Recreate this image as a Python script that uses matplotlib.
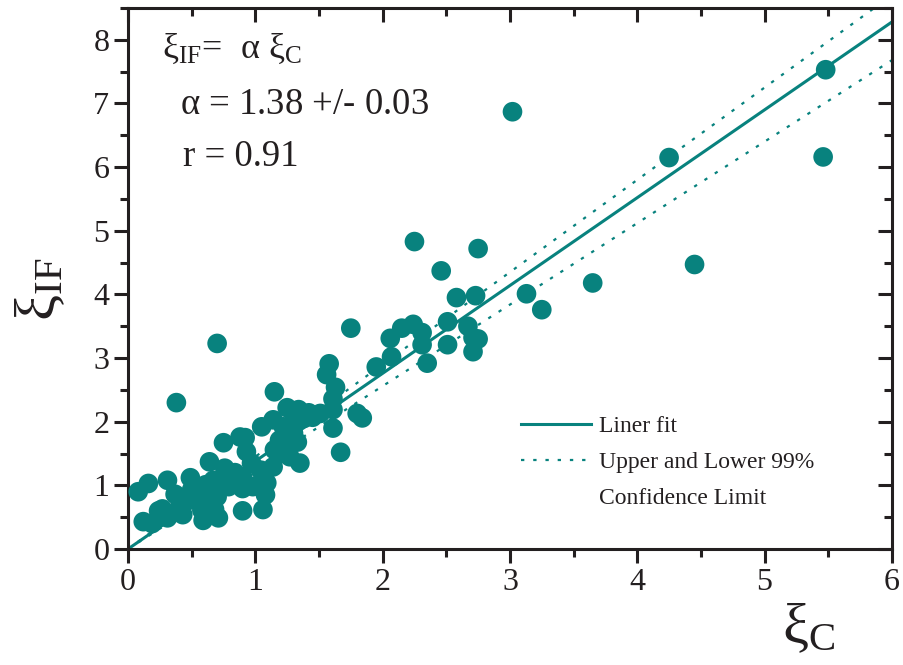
import numpy as np
import matplotlib.pyplot as plt
from matplotlib.lines import Line2D
from matplotlib.ticker import MultipleLocator

plt.rcParams['font.family'] = ['Liberation Serif', 'DejaVu Serif']
plt.rcParams['mathtext.fontset'] = 'custom'
plt.rcParams['mathtext.rm'] = 'Liberation Serif'
plt.rcParams['mathtext.it'] = 'Liberation Serif'

TEAL = '#08827e'
INK = '#231f20'

# correlation length from C vs. from IF
xi_c = [0.08, 0.16, 0.12, 0.19, 0.31, 0.27, 0.31, 0.37, 0.41, 0.43,
        0.49, 0.50, 0.54, 0.59, 0.58, 0.61, 0.64, 0.67, 0.70, 0.71,
        0.68, 0.75, 0.76, 0.79, 0.88, 0.90, 0.93, 0.90, 0.98, 0.97,
        1.04, 1.09, 1.08, 1.06, 1.05, 1.14, 1.22, 1.30, 1.33, 1.19,
        1.15, 0.92, 1.14, 1.15, 1.25, 1.34, 1.42, 1.51, 1.58, 1.56,
        1.63, 1.61, 1.61, 1.61, 1.67, 1.80, 1.84, 1.35, 1.27, 1.20,
        1.28, 1.24, 0.84, 0.80, 0.70, 0.38, 1.75, 1.95, 2.06, 2.15,
        2.24, 2.31, 2.31, 2.07, 2.35, 2.51, 2.51, 2.67, 2.71, 2.75,
        2.71, 2.58, 2.73, 2.25, 2.75, 2.46, 3.13, 3.25, 3.65, 4.45,
        4.25, 5.46, 5.48, 3.02, 0.90, 1.45, 1.38, 0.44, 0.24, 0.60]
xi_if = [0.90, 1.03, 0.43, 0.40, 1.08, 0.63, 0.49, 0.86, 0.69, 0.54,
         1.12, 0.93, 0.77, 0.45, 0.61, 1.01, 1.37, 1.08, 0.82, 0.49,
         0.62, 1.67, 1.27, 0.98, 1.76, 0.60, 1.53, 1.13, 0.98, 1.35,
         1.24, 1.04, 0.85, 0.62, 1.92, 2.03, 1.92, 1.82, 1.68, 1.71,
         1.56, 1.75, 1.29, 2.47, 2.22, 2.19, 2.14, 2.13, 2.91, 2.74,
         2.54, 2.36, 2.19, 1.90, 1.52, 2.13, 2.06, 1.35, 1.45, 1.50,
         1.95, 1.60, 1.20, 1.10, 3.23, 2.30, 3.47, 2.86, 3.31, 3.47,
         3.53, 3.40, 3.21, 3.02, 2.92, 3.57, 3.21, 3.50, 3.32, 3.30,
         3.10, 3.95, 3.98, 4.83, 4.72, 4.37, 4.01, 3.76, 4.18, 4.47,
         6.15, 6.16, 7.53, 6.87, 0.95, 2.07, 2.05, 0.75, 0.60, 0.85]

alpha = 1.38
alpha_upper = 1.45
alpha_lower = 1.28

fig = plt.figure(figsize=(9.04, 6.65), dpi=100)
ax = fig.add_axes([0.1416, 0.1744, 0.845, 0.8136])

ax.scatter(xi_c, xi_if, s=200, color=TEAL, edgecolors='none', zorder=3)

dots = (0, (1.5, 4))
xf = np.array([0, 6.0])
ax.plot(xf, alpha * xf, color=TEAL, lw=2.2, zorder=2)
ax.plot(xf, alpha_upper * xf, color=TEAL, lw=1.6, ls=dots, zorder=2)
ax.plot(xf, alpha_lower * xf, color=TEAL, lw=1.6, ls=dots, zorder=2)

ax.set_xlim(0, 6)
ax.set_ylim(0, 8.5)
ax.xaxis.set_major_locator(MultipleLocator(1))
ax.xaxis.set_minor_locator(MultipleLocator(0.5))
ax.yaxis.set_major_locator(MultipleLocator(1))
ax.yaxis.set_minor_locator(MultipleLocator(0.5))

for sp in ax.spines.values():
    sp.set_linewidth(2.2)
    sp.set_color(INK)

ax.tick_params(which='both', direction='out', width=2.2, color=INK,
               labelsize=23, labelcolor=INK, top=False, right=False)
ax.tick_params(which='major', length=10)
ax.tick_params(which='minor', length=6)

# mirrored ticks pointing inward on top and right, no labels
top = ax.secondary_xaxis('top')
right = ax.secondary_yaxis('right')
for sec in (top, right):
    sec.tick_params(which='both', direction='in', width=2.2, color=INK,
                    labeltop=False, labelright=False)
    sec.tick_params(which='major', length=10)
    sec.tick_params(which='minor', length=6)
top.xaxis.set_major_locator(MultipleLocator(1))
top.xaxis.set_minor_locator(MultipleLocator(0.5))
right.yaxis.set_major_locator(MultipleLocator(1))
right.yaxis.set_minor_locator(MultipleLocator(0.5))
top.set_xticklabels([])
right.set_yticklabels([])

fig.text(0.045, 0.565, r'$\mathregular{\xi_{IF}}$', fontsize=42,
         rotation=90, ha='center', va='center', color=INK)
fig.text(0.895, 0.055, r'$\mathregular{\xi_{C}}$', fontsize=42,
         ha='center', va='center', color=INK)

ax.text(0.045, 0.925, r'$\mathregular{\xi_{IF}}$=  $\mathregular{\alpha\ \xi_{C}}$',
        transform=ax.transAxes, fontsize=26, va='center', color=INK)
ax.text(0.068, 0.822, r'$\mathregular{\alpha}$ = 1.38 +/- 0.03',
        transform=ax.transAxes, fontsize=26.5, va='center', color=INK)
ax.text(0.072, 0.725, 'r = 0.91',
        transform=ax.transAxes, fontsize=26.5, va='center', color=INK)

handles = [Line2D([], [], color=TEAL, lw=2.2),
           Line2D([], [], color=TEAL, lw=1.6, ls=dots),
           Line2D([], [], color='none')]
labels = ['Liner fit', 'Upper and Lower 99%', 'Confidence Limit']
ax.legend(handles, labels, loc='upper left', bbox_to_anchor=(0.514, 0.247),
          borderaxespad=0, borderpad=0, frameon=False, fontsize=17,
          handlelength=3.0, labelspacing=0.62, handletextpad=0.3,
          labelcolor=INK)

fig.savefig('out.png', dpi=100)
